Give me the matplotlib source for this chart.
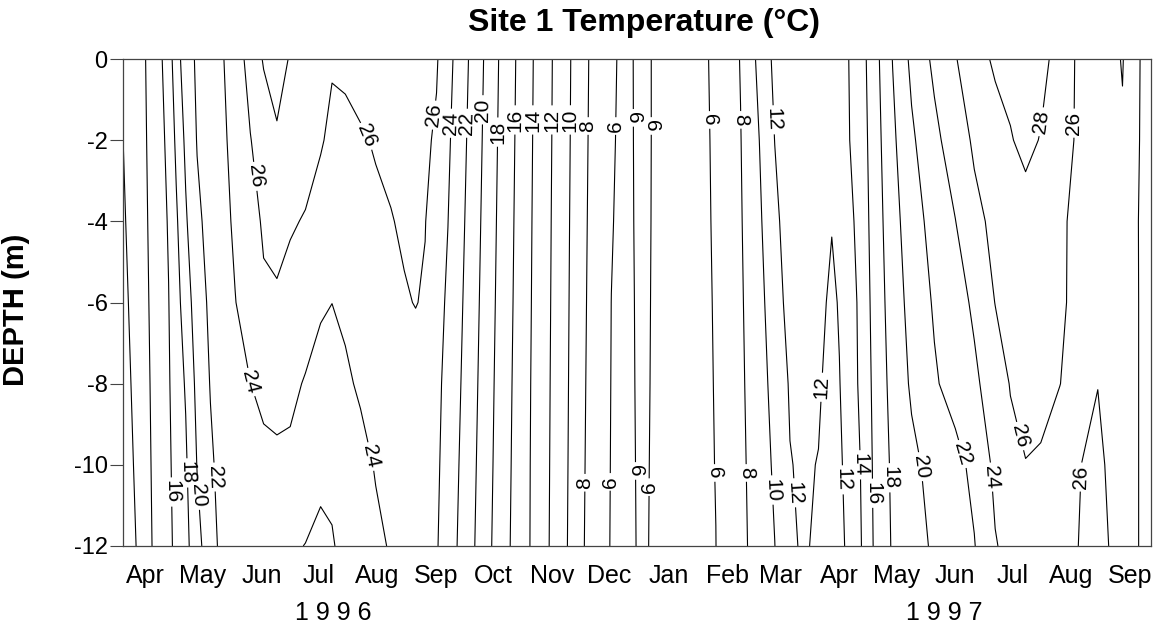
import numpy as np
import matplotlib.pyplot as plt

plt.rcParams['font.family'] = ['Liberation Sans', 'DejaVu Sans']
plt.rcParams['axes.unicode_minus'] = False

# sampling dates of the temperature profiles
sample_dates = [
    '1996-04-03', '1996-04-12', '1996-04-20', '1996-04-27', '1996-05-01',
    '1996-05-06', '1996-05-12', '1996-05-19', '1996-05-25', '1996-06-01',
    '1996-06-09', '1996-06-16', '1996-06-23', '1996-06-30', '1996-07-08',
    '1996-07-16', '1996-07-22', '1996-07-29', '1996-08-06', '1996-08-14',
    '1996-08-22', '1996-08-29', '1996-09-04', '1996-09-09', '1996-09-15',
    '1996-09-21', '1996-10-03', '1996-10-18', '1996-11-03', '1996-11-19',
    '1996-12-05', '1996-12-16', '1996-12-23', '1997-01-01', '1997-01-11',
    '1997-01-26', '1997-02-09', '1997-02-22', '1997-03-04', '1997-03-12',
    '1997-03-20', '1997-03-28', '1997-04-04', '1997-04-11', '1997-04-15',
    '1997-04-18', '1997-04-26', '1997-05-04', '1997-05-13', '1997-05-23',
    '1997-06-04', '1997-06-15', '1997-06-25', '1997-07-06', '1997-07-14',
    '1997-07-22', '1997-07-30', '1997-08-09', '1997-08-17', '1997-08-29',
    '1997-09-03', '1997-09-11', '1997-09-17', '1997-09-22', '1997-09-26',
]
depths = [0, -2, -4, -6, -8, -10, -12]

# temperature (deg C) at each depth, one value per sampling date
temp_0m = [12.18, 13.43, 15.00, 16.93, 19.22, 20.94, 22.33, 23.07, 23.81, 25.00,
           26.70, 28.16, 28.48, 27.91, 27.35, 26.78, 26.08, 26.29, 26.51, 26.60,
           26.55, 26.45, 26.40, 26.30, 26.18, 24.65, 21.71, 17.92, 14.38, 11.19,
           7.81, 6.28, 5.60, 6.40, 5.60, 5.44, 6.21, 8.08, 10.52, 12.45,
           12.60, 12.86, 13.18, 13.40, 13.55, 13.65, 15.09, 17.40, 20.04, 22.43,
           24.42, 25.88, 27.18, 28.30, 28.41, 28.50, 28.40, 27.50, 25.97, 25.08,
           25.37, 26.10, 24.74, 23.60, 23.00]
temp_2m = [11.99, 13.34, 14.88, 16.47, 18.38, 20.38, 22.09, 22.85, 23.61, 24.60,
           25.93, 26.91, 27.85, 27.23, 26.65, 26.08, 25.81, 25.62, 25.86, 26.11,
           26.35, 26.44, 26.38, 26.30, 25.75, 24.31, 21.49, 17.78, 14.31, 11.14,
           7.73, 6.18, 5.60, 6.38, 5.62, 5.44, 6.16, 7.94, 10.03, 12.03,
           12.40, 12.78, 13.11, 13.35, 13.50, 13.60, 14.91, 17.19, 19.62, 21.68,
           23.52, 24.99, 26.28, 27.21, 27.91, 28.35, 27.93, 26.78, 25.94, 25.08,
           25.28, 25.80, 24.59, 23.60, 23.00]
temp_4m = [11.77, 13.23, 14.77, 16.15, 17.69, 19.76, 21.63, 22.62, 23.40, 24.28,
           25.42, 26.19, 26.43, 26.16, 25.89, 25.64, 25.42, 25.38, 25.55, 25.74,
           25.93, 26.20, 26.32, 26.05, 25.08, 24.02, 21.28, 17.64, 14.24, 11.08,
           7.64, 6.08, 5.60, 6.35, 5.63, 5.43, 6.13, 7.84, 9.73, 11.53,
           13.00, 12.60, 12.30, 12.12, 12.40, 13.00, 14.71, 17.01, 19.25, 21.09,
           22.74, 23.96, 25.50, 26.45, 26.95, 27.45, 26.93, 26.23, 25.75, 25.02,
           25.03, 25.10, 24.36, 23.60, 23.00]
temp_6m = [11.50, 13.09, 14.67, 15.95, 17.26, 18.94, 21.09, 22.36, 23.11, 23.95,
           24.80, 25.77, 25.82, 25.46, 25.00, 24.40, 24.02, 24.40, 24.90, 25.30,
           25.60, 25.87, 26.05, 25.85, 24.61, 23.75, 21.07, 17.51, 14.18, 11.03,
           7.55, 5.99, 5.60, 6.30, 5.65, 5.43, 6.09, 7.74, 9.47, 11.03,
           12.74, 12.60, 12.71, 11.50, 12.20, 12.31, 14.48, 16.84, 18.93, 20.67,
           22.21, 23.19, 24.32, 26.04, 26.52, 27.00, 26.64, 26.16, 25.80, 25.25,
           25.20, 25.15, 24.40, 23.60, 23.00]
temp_8m = [11.19, 12.93, 14.57, 15.81, 16.93, 18.18, 20.56, 22.09, 22.65, 23.27,
           23.98, 24.50, 24.60, 24.45, 23.85, 22.83, 22.60, 23.65, 24.30, 24.60,
           24.90, 25.10, 25.34, 25.20, 24.40, 23.49, 20.87, 17.37, 14.11, 10.98,
           7.46, 5.96, 5.60, 6.27, 5.65, 5.43, 6.06, 7.65, 9.25, 10.63,
           12.19, 12.40, 12.41, 10.80, 11.90, 12.76, 14.25, 16.68, 18.63, 20.27,
           21.78, 22.74, 23.63, 25.02, 26.09, 26.47, 26.40, 26.01, 25.80, 25.96,
           25.90, 25.30, 24.40, 23.60, 23.00]
temp_10m = [10.82, 12.75, 14.49, 15.67, 16.66, 17.71, 20.07, 21.71, 22.60, 23.00,
            23.30, 23.49, 23.65, 23.60, 23.30, 22.50, 22.40, 23.20, 23.33, 24.15,
            24.50, 24.80, 25.00, 24.90, 24.30, 23.24, 20.67, 17.25, 14.06, 10.93,
            7.37, 5.93, 5.60, 6.23, 5.65, 5.43, 6.03, 7.56, 9.05, 10.29,
            11.92, 12.32, 11.90, 10.20, 11.00, 12.88, 13.99, 16.53, 18.33, 19.56,
            20.63, 21.40, 22.49, 24.41, 25.49, 25.96, 25.85, 25.70, 25.81, 26.50,
            25.82, 25.20, 24.40, 23.60, 23.00]
temp_12m = [10.34, 12.51, 14.41, 15.55, 16.45, 17.40, 19.35, 21.20, 22.50, 22.60,
            22.75, 22.80, 22.70, 22.30, 21.95, 21.53, 21.86, 22.50, 23.00, 23.57,
            24.17, 24.50, 24.70, 24.60, 24.15, 23.02, 20.48, 17.11, 14.03, 10.87,
            7.28, 5.90, 5.60, 6.20, 5.65, 5.42, 5.99, 7.49, 8.88, 9.98,
            11.73, 12.25, 11.50, 10.30, 10.80, 12.10, 13.80, 16.40, 18.19, 19.18,
            20.29, 21.10, 21.91, 23.89, 24.50, 24.90, 25.20, 25.50, 25.83, 27.00,
            26.10, 25.00, 24.40, 23.60, 23.00]

levels = [6, 8, 10, 12, 14, 16, 18, 20, 22, 24, 26, 28]
month_names = ['Apr', 'May', 'Jun', 'Jul', 'Aug', 'Sep', 'Oct', 'Nov', 'Dec',
               'Jan', 'Feb', 'Mar', 'Apr', 'May', 'Jun', 'Jul', 'Aug', 'Sep']
year_names = ['1 9 9 6', '1 9 9 7']

# where the contour labels sit: (days since 1 Jan 1996, depth)
label_spots = [
    (117.7, -10.67), (126.2, -10.2), (132.5, -10.75), (141.4, -10.3),
    (161.0, -2.9), (220.4, -1.92), (158.8, -7.98), (223.0, -9.8),
    (256.2, -1.38), (263.5, -1.58), (271.4, -1.58), (279.8, -1.25),
    (288.3, -1.8), (296.2, -1.5), (304.6, -1.5), (314.1, -1.5),
    (324.1, -1.5), (335.1, -1.65), (350.4, -1.65), (362.5, -1.45),
    (370.4, -1.65), (403.5, -1.5), (417.7, -1.5), (434.6, -1.5),
    (333.5, -10.44), (348.3, -10.42), (363.5, -10.15), (369.8, -10.55),
    (404.6, -10.2), (421.4, -10.2), (435.1, -10.62), (446.2, -10.69),
    (457.2, -8.08), (471.9, -10.37), (480.4, -10.0), (486.7, -10.7),
    (495.1, -10.32), (511.4, -10.05), (537.2, -9.7), (550.4, -10.3),
    (563.5, -9.31), (596.7, -10.3), (576.7, -1.55), (592.5, -1.58),
]

t0 = np.datetime64('1996-01-01')
days = (np.array(sample_dates, dtype='datetime64[D]') - t0).astype(float)
temps = np.array([temp_0m, temp_2m, temp_4m, temp_6m, temp_8m, temp_10m, temp_12m])

months = np.arange(np.datetime64('1996-04'), np.datetime64('1997-10'))
tick_days = (months.astype('datetime64[D]') + 14 - t0).astype(float)

fig = plt.figure(figsize=(11.7, 6.29), dpi=100)
ax = fig.add_axes([123 / 1170, 83 / 629, 1028 / 1170, 487 / 629])

cs = ax.contour(days, depths, temps, levels=levels, colors='black', linewidths=0.8)
ax.clabel(cs, manual=label_spots, fmt='%d', fontsize=15, inline=True, inline_spacing=3)

ax.set_xlim(days[0], days[-1])
ax.set_ylim(-12, 0)

ax.set_yticks(range(-12, 1, 2))
ax.set_yticklabels([str(v) for v in range(-12, 1, 2)])
ax.tick_params(axis='y', direction='out', length=9.5, width=0.8, pad=1.5,
               labelsize=17, color='#444444')
ax.set_xticks(tick_days)
ax.set_xticklabels(month_names)
ax.tick_params(axis='x', length=0, pad=13, labelsize=18)

for s in ax.spines.values():
    s.set_color('#444444')
    s.set_linewidth(0.9)

fig.text(643.5 / 1170, 1 - 31 / 629, 'Site 1 Temperature (°C)', ha='center',
         va='baseline', fontsize=23, fontweight='bold')
fig.text(16 / 1170, 1 - 310 / 629, 'DEPTH (m)', rotation=90, ha='center',
         va='center', fontsize=21, fontweight='bold')
fig.text(333.5 / 1170, 1 - 620 / 629, year_names[0], ha='center', va='baseline', fontsize=18)
fig.text(944 / 1170, 1 - 620 / 629, year_names[1], ha='center', va='baseline', fontsize=18)

fig.savefig('out.png', dpi=100)
